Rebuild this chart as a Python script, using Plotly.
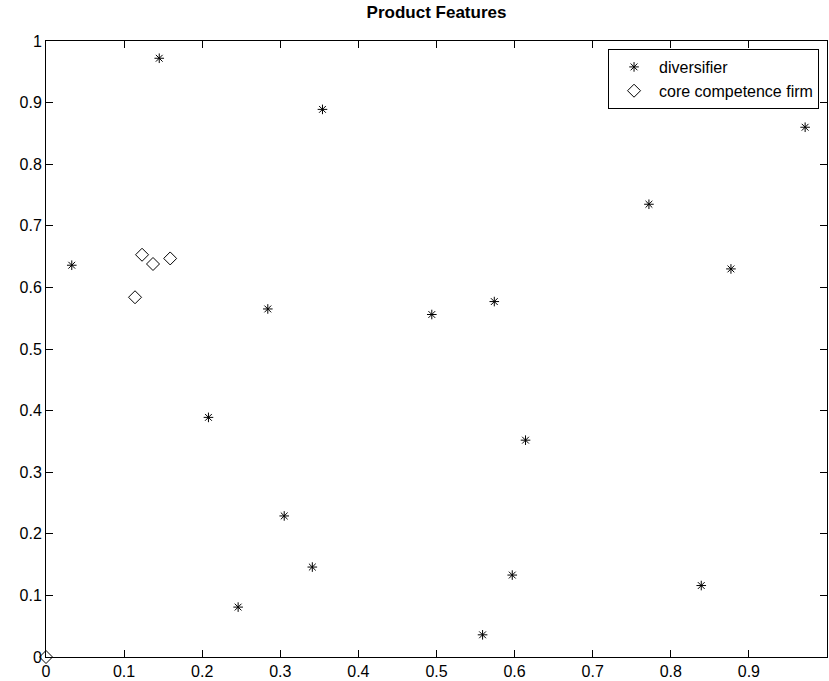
import plotly.graph_objects as go

# diversifier points
div_x = [0.145, 0.033, 0.354, 0.284, 0.494, 0.574, 0.972, 0.772, 0.877,
         0.208, 0.246, 0.305, 0.341, 0.614, 0.597, 0.559, 0.839]
div_y = [0.972, 0.636, 0.889, 0.565, 0.556, 0.577, 0.860, 0.735, 0.630,
         0.389, 0.081, 0.229, 0.146, 0.352, 0.133, 0.036, 0.116]

# core competence firm points
core_x = [0.123, 0.137, 0.159, 0.114, 0.0]
core_y = [0.653, 0.638, 0.647, 0.584, 0.0]

tick_vals = [0, 0.1, 0.2, 0.3, 0.4, 0.5, 0.6, 0.7, 0.8, 0.9, 1]
tick_text = ["0", "0.1", "0.2", "0.3", "0.4", "0.5", "0.6", "0.7", "0.8", "0.9", "1"]

FONT = "Liberation Sans, Arial, Helvetica, sans-serif"

fig = go.Figure()
fig.add_trace(go.Scatter(
    x=div_x, y=div_y, mode="markers", name="diversifier",
    marker=dict(symbol="asterisk-open", size=8, color="black",
                line=dict(color="black", width=1)),
    cliponaxis=False,
))
fig.add_trace(go.Scatter(
    x=core_x, y=core_y, mode="markers", name="core competence firm",
    marker=dict(symbol="diamond-open", size=10, color="black",
                line=dict(color="black", width=1)),
    cliponaxis=False,
))

axis_common = dict(
    range=[0, 1], tickmode="array", tickvals=tick_vals, ticktext=tick_text,
    ticks="inside", ticklen=7, tickcolor="black", tickwidth=1,
    showline=True, linecolor="black", linewidth=1, mirror="ticks",
    showgrid=False, zeroline=False, automargin=False,
    tickfont=dict(family=FONT, size=16, color="black"),
)

fig.update_layout(
    width=829, height=681,
    margin=dict(l=46, r=2, t=41, b=24, autoexpand=False),
    paper_bgcolor="white", plot_bgcolor="white",
    title=dict(text="<b>Product Features</b>", x=0.5, xref="paper", xanchor="center",
               y=1 - 12 / 681, yref="container", yanchor="middle",
               font=dict(family=FONT, size=17, color="black")),
    xaxis=dict(axis_common, ticklabelstandoff=0),
    yaxis=axis_common,
    showlegend=True,
    legend=dict(x=0.9898, y=0.987, xanchor="right", yanchor="top",
                bordercolor="black", borderwidth=1, bgcolor="white",
                font=dict(family=FONT, size=16, color="black"),
                tracegroupgap=0, itemwidth=40),
)

fig.write_html(
    "out.html",
    config={"displayModeBar": False},
    post_script="document.body.style.margin='0px';document.body.style.overflow='hidden';",
)
